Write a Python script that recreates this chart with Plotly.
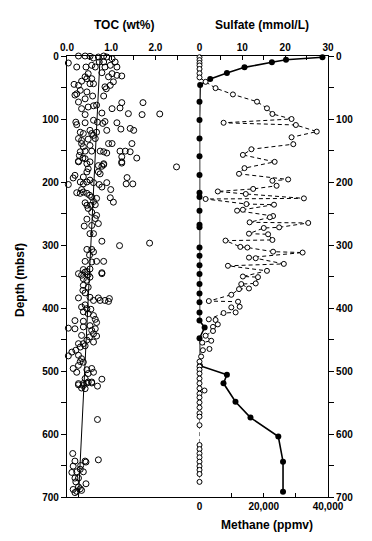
import plotly.graph_objects as go

# ---------------- data ----------------
toc_depth = [0, 0, 0.5, 1.6, 0, 1.6, 4.2, 3.2, 11.1, 17.5, 17.5, 14.8, 17.5, 9.5, 9.5, 14.8, 17.5, 9.5, 17.5,
             28, 33, 36, 36, 26.5, 28, 30.7, 31.7, 33, 45, 46.6, 40, 44, 44, 49, 52, 41, 46.6, 60, 62, 54.5, 57,
             63.5, 63.5, 68, 73, 83.6, 81, 79, 78, 90.5, 83.6, 82.5, 74, 91.5, 93, 74, 92, 93, 105, 109, 106, 102,
             105, 107, 104, 106, 116, 115, 118, 118, 121, 123, 118, 123, 121, 126, 131, 134, 132, 131, 139, 144,
             142, 139, 139, 139, 152, 151, 151, 151, 152, 154, 151, 151, 152, 162, 160, 158, 162, 167, 163, 171, 168,
             168, 171, 168, 174, 175, 172.5, 170, 176, 179, 184, 184, 187, 189.4, 193.6, 192, 204, 200, 203, 200,
             197, 201, 204, 208, 201, 193, 203, 203, 212, 217, 218, 216, 218, 212, 221, 224, 226, 225, 232, 231,
             233, 237, 237, 236, 242, 248, 253, 266, 259, 258, 269, 270, 282, 282, 294, 301, 297, 307, 307, 311,
             316, 326, 327, 326, 326, 339, 342, 344, 338,
             345.5, 348, 343, 347, 351, 345.5, 353.5, 356, 364, 367, 372, 376, 383, 384, 384, 388, 388, 385, 389.5,
             388, 398.5, 395, 401, 402, 406, 409, 412, 418, 423, 420, 421, 432, 433, 430, 428, 435.5, 433, 441,
             444.5, 446, 443.5, 454, 456.6, 451, 456.6, 462, 460, 467, 470, 476, 475, 480.5, 486, 491, 485, 496,
             502, 498, 504, 502, 496, 512, 517.5, 513, 520, 520, 517.5,
             522, 527, 528, 523, 519, 519, 524, 577, 631, 643, 643, 644.5, 650, 651, 656, 660, 660, 661, 670, 670,
             676, 679, 684, 688, 691, 693, 687, 689.5, 641]
toc_value = [0.26, 0.41, 0.52, 0.71, 0.83, 0.90, 1.02, 0.60, 0.03, 0.22, 0.43, 0.56, 0.64, 0.73, 0.83, 0.98, 1.13,
             1.09, 0.86, 0.48, 0.41, 0.45, 0.56, 0.79, 1.02, 1.13, 1.24, 0.94, 0.16, 0.26, 0.33, 0.52, 0.60, 0.86,
             0.89, 1.05, 0.98, 0.22, 0.18, 0.30, 0.45, 0.58, 0.83, 0.41, 0.26, 0.33, 0.48, 0.60, 0.67, 0.79, 1.02,
             1.20, 1.24, 1.39, 1.70, 1.72, 2.10, 0.41, 0.20, 0.22, 0.41, 0.60, 0.69, 0.81, 0.86, 1.13, 1.22, 1.43,
             1.51, 0.90, 0.30, 0.37, 0.52, 0.56, 0.67, 0.60, 0.26, 0.33, 0.48, 0.64, 0.33, 0.37, 0.52, 0.94, 1.02,
             1.47, 0.30, 0.41, 0.56, 0.75, 0.83, 0.90, 1.20, 1.32, 1.43, 1.58, 1.24, 0.28, 0.36, 0.26, 0.41, 0.83,
             1.24,
             0.26, 0.45, 0.52, 0.71, 0.79, 0.83, 1.24, 2.48, 0.48, 0.45, 0.71, 0.75, 0.18, 0.14, 0.37, 0.03, 0.30,
             0.37, 0.45, 0.52, 0.60, 0.73, 0.79, 0.90, 1.36, 1.34, 1.49, 0.99, 0.22, 0.30, 0.37, 0.45, 0.33, 0.51,
             0.56, 0.67, 0.98, 1.05, 0.60, 0.41, 0.45, 0.54, 0.64, 0.48, 0.56, 0.67, 0.71, 0.45, 0.64, 0.56, 0.39,
             0.52, 0.60, 0.79, 1.19, 1.87, 0.45, 0.56, 0.60, 0.51, 0.41, 0.56, 0.67, 0.83, 0.37, 0.45, 0.79, 0.52,
             0.26, 0.33, 0.41, 0.48, 0.52, 0.79, 0.37, 0.45, 0.37, 0.48, 0.36, 0.41, 0.52, 0.26, 0.71, 0.75, 0.86,
             0.96, 0.94, 0.60, 0.33, 0.41, 0.45, 0.54, 0.37, 0.48, 0.60, 0.64, 0.67, 0.18, 0.37, 0.03, 0.18, 0.37,
             0.52, 0.56, 0.64, 0.60, 0.67, 0.51, 0.33, 0.60, 0.37, 0.45, 0.26, 0.30, 0.41, 0.20, 0.11, 0.03, 0.26,
             0.33, 0.37, 0.26, 0.30, 0.14, 0.22, 0.45, 0.48, 0.60, 0.56, 0.41, 0.48, 0.79, 0.26, 0.37, 0.56,
             0.26, 0.33, 0.41, 0.37, 0.45, 0.56, 0.69, 0.69, 0.13, 0.18, 0.41, 0.43, 0.31, 0.14, 0.30, 0.22, 0.37,
             0.11, 0.18, 0.26, 0.20, 0.43, 0.26, 0.14, 0.22, 0.18, 0.30, 0.33, 0.71]

toc_trend_depth = [0, 700]
toc_trend_value = [0.75, 0.26]

sulfate_depth = [2, 6, 10, 18, 27, 36.5, 46, 72.5, 101.6, 131, 159, 189, 217, 224, 245.5, 268, 272, 304, 317, 332,
                 346, 362, 377, 391, 407, 420, 431, 448, 491.6, 506, 519.5, 548.7, 574, 604, 644, 691.6]
sulfate_value = [28.7, 20.2, 16.9, 10.5, 6.4, 2.5, 0.15, 0, 0, 0, 0, 0, 0, 0, 0, 0, 0, 0, 0, 0,
                 0, 0, 0, 0, 0, 0, 1.2, 0, 0.1, 6.4, 5.6, 8.4, 11.9, 18.4, 19.5, 19.5]

methane_depth = [2, 6.5, 11, 15, 20.6, 27.5, 34, 41, 51, 61, 72.5, 83, 92, 100, 106, 109.5, 120, 129, 140, 148,
                 157, 168, 178, 187, 196, 198, 206, 211, 215, 219, 226, 227, 235, 236, 244, 245.5, 254, 256, 264,
                 265, 272, 273, 282, 283, 292, 293, 303, 304, 310.6, 312, 320, 321, 330, 333, 341, 350, 351, 361,
                 362, 369, 370, 379, 389, 390, 398, 399, 407, 408, 418, 419, 426, 430, 436.5, 444, 452, 455, 465,
                 467, 477, 485, 493, 498, 504, 512, 519.5, 527.5, 531, 536, 542, 550, 558, 567, 572.5, 586, 617.5,
                 624, 631, 637, 644, 651, 657, 663.5, 676]
methane_value = [0, 0, 0, 0, 0, 0, 0, 1900, 5000, 10400, 17900, 21000, 22700, 28650, 7500, 30000, 36500, 28650,
                 29200, 16150, 13500, 23400, 14000, 12300, 27600, 22700, 24000, 16700, 5700, 14400, 32500, 1900,
                 14600, 23200, 13500, 11700, 22900, 21900, 15600, 33850, 24800, 20000, 15400, 21350, 22700, 8100,
                 12700, 14900, 22900, 32100, 15400, 17500, 26250, 8850, 21000, 13500, 18200, 17500, 13000, 15400,
                 12300, 9900, 2900, 12000, 12500, 9900, 11250, 7500, 2900, 5000, 5700, 4200, 4200, 1900, 3650, 850,
                 3100, 1050, 500, 0, 0, 0, 0, 0, 0, 0, 1560, 0, 0, 0, 0, 0, 0, 0, 0,
                 0, 0, 0, 0, 0, 0, 0, 0]

toc_ticks = [0, 0.5, 1.0, 1.5, 2.0, 2.5]
toc_ticktext = ["0.0", "", "1.0", "", "2.0", ""]
sulfate_ticks = [0, 5, 10, 15, 20, 25, 30]
sulfate_ticktext = ["0", "", "10", "", "20", "", "30"]
methane_ticks = [0, 10000, 20000, 30000, 40000]
methane_ticktext = ["0", "", "20,000", "", "40,000"]
depth_ticks = [0, 50, 100, 150, 200, 250, 300, 350, 400, 450, 500, 550, 600, 650, 700]
depth_ticktext = ["0", "", "100", "", "200", "", "300", "", "400", "", "500", "", "600", "", "700"]

# ---------------- figure ----------------
FONT = "Liberation Sans, Arial, Helvetica, sans-serif"
OFF = 8                      # default page body margin
W, H = 356, 525
ML, MT = 67 - OFF, 56 - OFF
PW, PH = 261, 441
MR, MB = W - ML - PW, H - MT - PH
split = (199.5 - 67) / PW

fig = go.Figure()

fig.add_trace(go.Scatter(x=toc_trend_value, y=toc_trend_depth, mode="lines",
                         line=dict(color="black", width=1), xaxis="x", yaxis="y",
                         showlegend=False, hoverinfo="skip"))
fig.add_trace(go.Scatter(x=toc_value, y=toc_depth, mode="markers",
                         marker=dict(symbol="circle-open", size=6, color="black", line=dict(width=1)),
                         xaxis="x", yaxis="y", cliponaxis=False, showlegend=False))

fig.add_trace(go.Scatter(x=sulfate_value, y=sulfate_depth, mode="lines+markers",
                         line=dict(color="black", width=1.6),
                         marker=dict(symbol="circle", size=6, color="black"),
                         xaxis="x2", yaxis="y2", cliponaxis=False, showlegend=False))
fig.add_trace(go.Scatter(x=methane_value, y=methane_depth, mode="lines+markers",
                         line=dict(color="black", width=1, dash="4px,3px"),
                         marker=dict(symbol="circle", size=5, color="white",
                                     line=dict(color="black", width=1)),
                         xaxis="x3", yaxis="y2", cliponaxis=False, showlegend=False))

tickfont = dict(family=FONT, size=10, color="black", weight="bold")
common_x = dict(showgrid=False, zeroline=False, showline=True, linecolor="black", linewidth=1.2,
                ticks="inside", ticklen=4, tickwidth=1, tickcolor="black", tickfont=tickfont)
common_y = dict(showgrid=False, zeroline=False, showline=True, linecolor="black", linewidth=1.2,
                ticks="outside", ticklen=5, tickwidth=1, tickcolor="black", tickfont=tickfont,
                range=[700, 0], tickvals=depth_ticks, ticktext=depth_ticktext)

fig.update_layout(
    width=W, height=H, margin=dict(l=ML, r=MR, t=MT, b=MB),
    paper_bgcolor="white", plot_bgcolor="white",
    xaxis=dict(common_x, domain=[0, split], range=[0, 3.0], side="top", anchor="y", mirror=True,
               tickvals=toc_ticks, ticktext=toc_ticktext),
    xaxis2=dict(common_x, domain=[split, 1], range=[0, 30], side="top", anchor="y2",
                tickvals=sulfate_ticks, ticktext=sulfate_ticktext),
    xaxis3=dict(common_x, domain=[split, 1], range=[0, 40000], side="bottom", anchor="y2",
                overlaying="x2", tickvals=methane_ticks, ticktext=methane_ticktext),
    yaxis=dict(common_y, anchor="x", side="left"),
    yaxis2=dict(common_y, anchor="x2", side="right", matches="y"),
)

def px_to_paper(px, py):
    # page pixel coordinates -> paper coordinates
    return (px - 67) / PW, (497 - py) / PH

titlefont = dict(family=FONT, size=12, color="black", weight="bold")
for text, px, py, angle in [("TOC (wt%)", 124, 25, 0), ("Sulfate (mmol/L)", 262, 25, 0),
                            ("Methane (ppmv)", 267, 525, 0), ("Depth (mbsf)", 20, 280, -90)]:
    xp, yp = px_to_paper(px, py)
    fig.add_annotation(text=text, x=xp, y=yp, xref="paper", yref="paper", showarrow=False,
                       xanchor="center", yanchor="middle", textangle=angle, font=titlefont)

fig.write_html("out.html")
